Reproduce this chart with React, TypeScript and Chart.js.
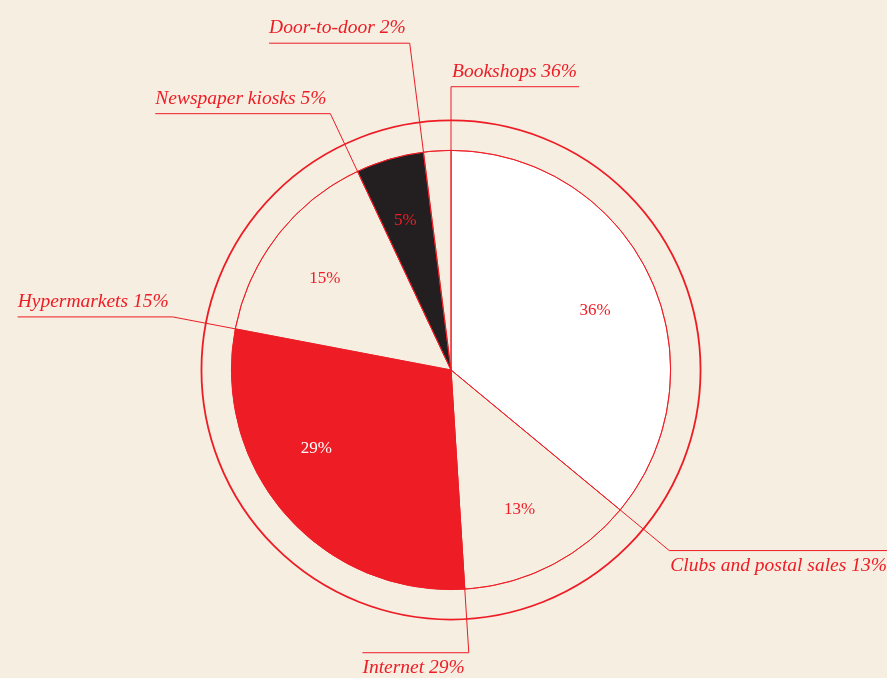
import React, { useEffect, useRef } from "react";
import { Chart, registerables } from "chart.js";

Chart.register(...registerables);

const categories = ["Bookshops", "Clubs and postal sales", "Internet", "Hypermarkets", "Newspaper kiosks", "Door-to-door"];
const shares = [36, 13, 29, 15, 5, 2];
const showInnerLabel = [true, true, true, true, true, false];

const BG = "#f5eee1";
const RED = "#ee1c25";
const BLACK = "#231f20";
const WHITE = "#ffffff";

const sliceColors = [WHITE, BG, RED, BG, BLACK, BG];
const innerLabelColors = [RED, RED, WHITE, RED, RED, RED];
const labelSide = ["right", "right", "left", "left", "left", "left"];
const labelAbove = [true, false, false, true, true, true];
const leaderFactor = [1.29, 1.29, 1.29, 1.29, 1.29, 1.5];
const innerAngleShiftDeg = [2.7, 0.9, 11.1, -1.8, -0.8, 0];

const LABEL_FONT = "italic 19.5px 'Liberation Serif', serif";
const INNER_FONT = "17px 'Liberation Serif', serif";

const decorPlugin = {
  id: "decor",
  beforeDraw(chart: any) {
    const ctx = chart.ctx;
    ctx.save();
    ctx.fillStyle = BG;
    ctx.fillRect(0, 0, chart.width, chart.height);
    ctx.restore();
  },
  afterDatasetsDraw(chart: any) {
    const ctx = chart.ctx;
    const meta = chart.getDatasetMeta(0);
    const arcs = meta.data;
    if (!arcs.length) return;
    const cx = arcs[0].x;
    const cy = arcs[0].y;
    const R = arcs[0].outerRadius;
    ctx.save();
    ctx.strokeStyle = RED;
    ctx.lineWidth = 1;
    ctx.beginPath();
    ctx.arc(cx, cy, R, 0, Math.PI * 2);
    ctx.stroke();
    ctx.lineWidth = 1.8;
    ctx.beginPath();
    ctx.arc(cx, cy, R * (250 / 220), 0, Math.PI * 2);
    ctx.stroke();

    arcs.forEach((arc: any, i: number) => {
      const a = arc.startAngle;
      const lr = R * leaderFactor[i];
      const ex = cx + Math.cos(a) * lr;
      const ey = cy + Math.sin(a) * lr;
      const text = `${categories[i]} ${shares[i]}%`;
      ctx.font = LABEL_FONT;
      const tw = ctx.measureText(text).width;
      let x2: number, tx: number;
      if (labelSide[i] === "right") {
        x2 = ex + tw + 3;
        tx = ex + 1;
      } else {
        x2 = ex - tw - 4;
        tx = x2;
      }
      ctx.strokeStyle = RED;
      ctx.lineWidth = 1;
      ctx.beginPath();
      ctx.moveTo(cx, cy);
      ctx.lineTo(ex, ey);
      ctx.lineTo(x2, ey);
      ctx.stroke();
      ctx.fillStyle = RED;
      ctx.textAlign = "left";
      ctx.textBaseline = "alphabetic";
      const ty = labelAbove[i] ? ey - 10 : ey + 20;
      ctx.fillText(text, tx, ty);

      if (showInnerLabel[i]) {
        const mid = (arc.startAngle + arc.endAngle) / 2 + (innerAngleShiftDeg[i] * Math.PI) / 180;
        const ir = R * 0.71;
        ctx.font = INNER_FONT;
        ctx.fillStyle = innerLabelColors[i];
        ctx.textAlign = "center";
        ctx.textBaseline = "middle";
        ctx.fillText(`${shares[i]}%`, cx + Math.cos(mid) * ir, cy + Math.sin(mid) * ir);
      }
    });
    ctx.restore();
  },
};

export default function App() {
  const ref = useRef<HTMLCanvasElement>(null);
  useEffect(() => {
    if (!ref.current) return;
    const chart = new Chart(ref.current, {
      type: "pie",
      data: {
        labels: categories,
        datasets: [
          {
            data: shares,
            backgroundColor: sliceColors,
            borderColor: RED,
            borderWidth: 0.8,
          },
        ],
      },
      options: {
        animation: false,
        responsive: false,
        devicePixelRatio: 1,
        layout: { padding: { top: 150, bottom: 88, left: 231, right: 216 } },
        plugins: { legend: { display: false }, tooltip: { enabled: false } },
      },
      plugins: [decorPlugin],
    } as any);
    return () => chart.destroy();
  }, []);
  return (
    <div style={{ position: "absolute", left: 0, top: 0, width: 887, height: 678, background: BG }}>
      <canvas ref={ref} width={887} height={678} style={{ display: "block" }} />
    </div>
  );
}
